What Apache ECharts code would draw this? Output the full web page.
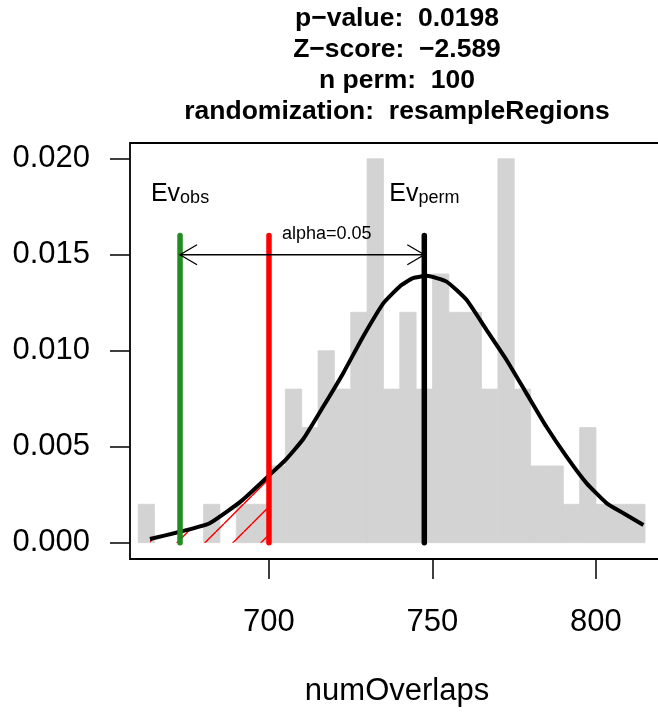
<!DOCTYPE html>
<html>
<head>
<meta charset="utf-8">
<script src="https://cdn.jsdelivr.net/npm/echarts@6/dist/echarts.min.js"></script>
<style>
  html, body { margin: 0; padding: 0; background: #fff; }
  #main { width: 658px; height: 716px; }
</style>
</head>
<body>
<div id="main"></div>
<script>
  // histogram of the 100 permutations (density, bin width 5)
  var binStarts = [660, 665, 670, 675, 680, 685, 690, 695, 700, 705, 710, 715, 720, 725, 730, 735,
                   740, 745, 750, 755, 760, 765, 770, 775, 780, 785, 790, 795, 800, 805, 810];
  var binDensity = [0.002, 0, 0, 0, 0.002, 0, 0.002, 0.002, 0.004, 0.008, 0.006, 0.010, 0.008, 0.012, 0.020, 0.008,
                    0.012, 0.008, 0.014, 0.012, 0.012, 0.008, 0.020, 0.008, 0.004, 0.004, 0.002, 0.006, 0.002, 0.002, 0.002];
  var binWidth = 5;

  // normal curve
  var curveX = [663.6, 672.8, 681.7, 691.6, 700, 705, 710.5, 716.6, 722.7, 728.8, 735, 740, 744, 748.2,
                754.3, 760.4, 766.5, 772.6, 778.7, 784.8, 791, 797.1, 803.3, 808.4, 814.5];
  var curveY = [0.00019, 0.00057, 0.0010, 0.00218, 0.0035, 0.0043, 0.0054, 0.00709, 0.00883, 0.01074, 0.01248,
                0.01335, 0.01378, 0.0139, 0.0136, 0.01265, 0.01109, 0.00953, 0.00779, 0.00605, 0.00448,
                0.0031, 0.00205, 0.00153, 0.00092];

  var obsValue = 672.8;    // Ev obs
  var alphaValue = 700;    // alpha=0.05 limit
  var permMean = 747.5;    // Ev perm
  var lineTop = 0.016;
  var arrowY = 0.015;
  var labelY = 0.0188;
  var evSubs = ['obs', 'perm'];

  var xTicks = [700, 750, 800];
  var yTicks = [0, 0.005, 0.010, 0.015, 0.020];
  var titleLines = ['p\u2212value:  0.0198', 'Z\u2212score:  \u22122.589', 'n perm:  100', 'randomization:  resampleRegions'];

  var FONT = '"Liberation Sans", Arial, Helvetica, sans-serif';

  var myChart = echarts.init(document.getElementById('main'));

  var bars = binStarts.map(function (s, i) { return [s, s + binWidth, binDensity[i]]; });
  var curve = curveX.map(function (x, i) { return [x, curveY[i]]; });
  var tail = curve.filter(function (p) { return p[0] <= alphaValue; });

  // red hatch pattern for the tail below alpha
  var hatch = document.createElement('canvas');
  hatch.width = 28; hatch.height = 28;
  var g = hatch.getContext('2d');
  g.strokeStyle = '#FF0000';
  g.lineWidth = 1.5;
  g.beginPath();
  g.moveTo(0, 19.7); g.lineTo(19.7, 0);
  g.moveTo(19.7, 28); g.lineTo(28, 19.7);
  g.stroke();

  function vline(x, color) {
    return {
      type: 'line',
      data: [[x, 0], [x, lineTop]],
      symbol: 'none',
      lineStyle: { color: color, width: 5.5, cap: 'round' },
      silent: true,
      z: 5
    };
  }

  var option = {
    animation: false,
    grid: {
      left: 130, top: 143, width: 534, height: 416,
      outerBoundsMode: 'none',
      containLabel: false,
      show: true, borderColor: '#000', borderWidth: 1.8, backgroundColor: 'rgba(0,0,0,0)'
    },
    graphic: [{
      type: 'text',
      x: 397, y: 3,
      style: {
        text: titleLines.join('\n'),
        font: 'bold 26.5px ' + FONT,
        lineHeight: 31,
        align: 'center',
        verticalAlign: 'top',
        fill: '#000'
      }
    }],
    xAxis: {
      type: 'value',
      min: 657.5,
      max: 820.8,
      name: 'numOverlaps',
      nameLocation: 'middle',
      nameGap: 117,
      nameTextStyle: { fontSize: 31, fontFamily: FONT, color: '#000' },
      axisLine: { show: false, onZero: false },
      axisTick: { show: true, length: 20, customValues: xTicks, lineStyle: { color: '#000', width: 1.5 } },
      axisLabel: { customValues: xTicks, fontSize: 31, fontFamily: FONT, color: '#000', margin: 48 },
      splitLine: { show: false }
    },
    yAxis: {
      type: 'value',
      min: -0.00085,
      max: 0.02082,
      axisLine: { show: false, onZero: false },
      axisTick: { show: true, length: 20, customValues: yTicks, lineStyle: { color: '#000', width: 1.5 } },
      axisLabel: {
        customValues: yTicks, fontSize: 31, fontFamily: FONT, color: '#000', margin: 40,
        formatter: function (v) { return v.toFixed(3); }
      },
      splitLine: { show: false }
    },
    series: [
      {
        type: 'custom',
        data: bars,
        clip: false,
        silent: true,
        renderItem: function (params, api) {
          if (api.value(2) <= 0) return null;
          var p0 = api.coord([api.value(0), api.value(2)]);
          var p1 = api.coord([api.value(1), 0]);
          return {
            type: 'rect',
            shape: { x: p0[0], y: p0[1], width: p1[0] - p0[0], height: p1[1] - p0[1] },
            style: { fill: '#D3D3D3', stroke: '#D3D3D3', lineWidth: 0.8 }
          };
        },
        z: 2
      },
      {
        type: 'line',
        data: tail,
        symbol: 'none',
        lineStyle: { width: 0 },
        areaStyle: { color: { image: hatch, repeat: 'repeat' }, opacity: 1 },
        silent: true,
        z: 3
      },
      {
        type: 'line',
        data: curve,
        symbol: 'none',
        smooth: 0.15,
        lineStyle: { color: '#000', width: 4, join: 'round' },
        silent: true,
        z: 4
      },
      vline(obsValue, '#228B22'),
      vline(alphaValue, '#FF0000'),
      vline(permMean, '#000000'),
      {
        type: 'custom',
        data: [[obsValue, permMean, arrowY]],
        clip: false,
        silent: true,
        z: 6,
        renderItem: function (params, api) {
          var a = api.coord([api.value(0), api.value(2)]);
          var b = api.coord([api.value(1), api.value(2)]);
          var t = api.coord([alphaValue, api.value(2)]);
          var hx = 17, hy = 10;
          var st = { stroke: '#000', lineWidth: 1.3, fill: null };
          return {
            type: 'group',
            children: [
              { type: 'line', shape: { x1: a[0], y1: a[1], x2: b[0], y2: b[1] }, style: st },
              { type: 'polyline', shape: { points: [[a[0] + hx, a[1] - hy], [a[0], a[1]], [a[0] + hx, a[1] + hy]] }, style: st },
              { type: 'polyline', shape: { points: [[b[0] - hx, b[1] - hy], [b[0], b[1]], [b[0] - hx, b[1] + hy]] }, style: st },
              {
                type: 'text', x: t[0] + 13, y: t[1] - 20.5,
                style: { text: 'alpha=0.05', font: '18px ' + FONT, fill: '#000', align: 'left', verticalAlign: 'middle' }
              }
            ]
          };
        }
      },
      {
        type: 'custom',
        data: [[obsValue, labelY], [permMean, labelY]],
        clip: false,
        silent: true,
        z: 6,
        renderItem: function (params, api) {
          var p = api.coord([api.value(0), api.value(1)]);
          return {
            type: 'text',
            x: p[0], y: p[1],
            style: {
              text: '{a|Ev}{b|' + evSubs[params.dataIndex] + '}',
              align: 'center',
              verticalAlign: 'top',
              fill: '#000',
              rich: {
                a: { fontSize: 25, fontFamily: FONT, lineHeight: 25, padding: [0, 0, 4, 0], verticalAlign: 'top' },
                b: { fontSize: 18, fontFamily: FONT, lineHeight: 18, verticalAlign: 'bottom' }
              }
            }
          };
        }
      }
    ]
  };

  myChart.setOption(option);
</script>
</body>
</html>
